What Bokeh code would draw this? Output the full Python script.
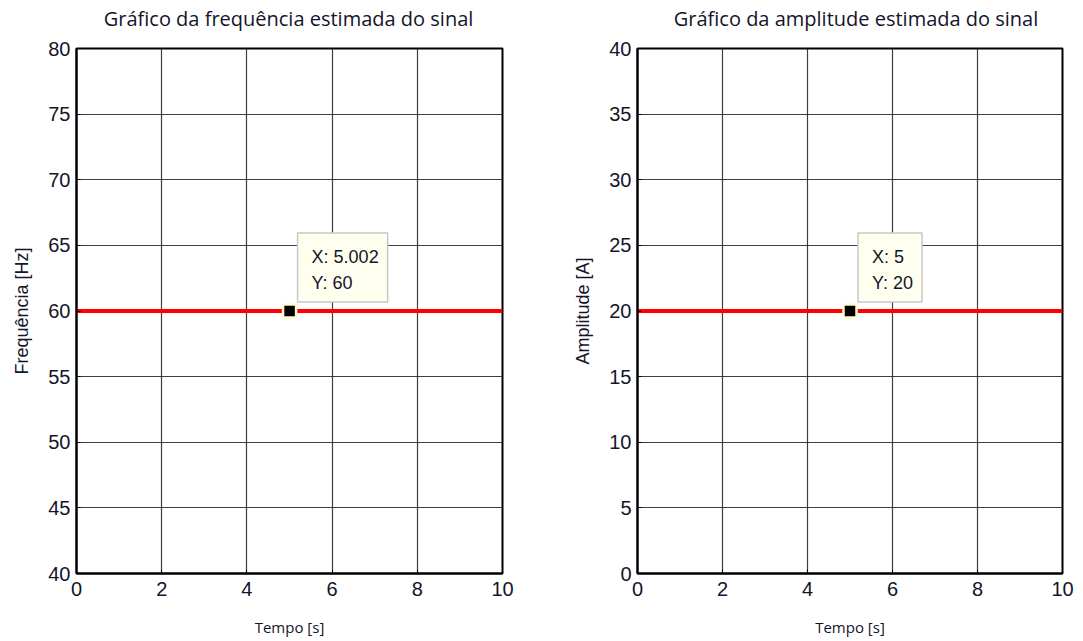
from bokeh.plotting import figure
from bokeh.layouts import row, column
from bokeh.models import Label, FixedTicker, Range1d
from bokeh.embed import file_html
from bokeh.resources import INLINE

# Estimated signal over time
time_s = [0, 2, 4, 6, 8, 10]
freq_hz = [60, 60, 60, 60, 60, 60]
amp_a = [20, 20, 20, 20, 20, 20]

# Data tips
freq_tip_x, freq_tip_y = 5.002, 60
amp_tip_x, amp_tip_y = 5, 20

x_ticks = [0, 2, 4, 6, 8, 10]
freq_ticks = [40, 45, 50, 55, 60, 65, 70, 75, 80]
amp_ticks = [0, 5, 10, 15, 20, 25, 30, 35, 40]

TICK_FONT = "Liberation Sans"
TEXT_COLOR = "#14142a"
HEAD_H = 36


def make_heading(text, width, shift):
    # thin strip above each chart holding its heading; its frame lines up with the chart's
    h = figure(width=width, height=HEAD_H, output_backend="svg", toolbar_location=None,
               x_range=Range1d(0, 10), y_range=Range1d(0, HEAD_H),
               x_axis_location=None, y_axis_location=None,
               min_border_left=0, min_border_right=0, min_border_top=0, min_border_bottom=0)
    h.outline_line_color = None
    h.grid.visible = False
    h.add_layout(Label(x=5, y=HEAD_H - 18, x_offset=shift, text=text,
                       text_font="Open Sans", text_font_size="20px",
                       text_color=TEXT_COLOR, text_align="center",
                       text_baseline="middle"))
    return h


def make_panel(ylabel, y, yticks, tip_x, tip_y, tip_label, width, b_left, b_right):
    p = figure(width=width, height=641 - HEAD_H, output_backend="svg", toolbar_location=None,
               x_range=Range1d(0, 10), y_range=Range1d(yticks[0], yticks[-1]),
               min_border_left=b_left, min_border_right=b_right,
               min_border_top=48 - HEAD_H, min_border_bottom=68)

    p.outline_line_color = "black"
    p.outline_line_width = 2
    p.outline_line_alpha = 1.0

    for ax, ticks in ((p.xaxis[0], x_ticks), (p.yaxis[0], yticks)):
        ax.ticker = FixedTicker(ticks=ticks)
        ax.major_label_text_font = TICK_FONT
        ax.major_label_text_font_size = "20px"
        ax.major_label_text_color = TEXT_COLOR
        ax.axis_line_color = "black"
        ax.axis_line_width = 2
        ax.major_tick_in = 4
        ax.major_tick_out = 0
        ax.major_tick_line_color = "black"
        ax.minor_tick_line_color = None
        ax.axis_label_text_font_style = "normal"
        ax.axis_label_text_color = TEXT_COLOR

    p.xaxis.axis_label = "Tempo [s]"
    p.xaxis.axis_label_text_font = "Open Sans"
    p.xaxis.axis_label_text_font_size = "15px"
    p.xaxis.major_label_standoff = 8
    p.xaxis.axis_label_standoff = 18

    p.yaxis.axis_label = ylabel
    p.yaxis.axis_label_text_font = TICK_FONT
    p.yaxis.axis_label_text_font_size = "18px"
    p.yaxis.major_label_standoff = 6
    p.yaxis.axis_label_standoff = 13

    p.grid.grid_line_color = "#2a2a2a"
    p.grid.grid_line_width = 1.2
    p.grid.grid_line_alpha = 0.9

    p.line(time_s, y, line_color="#ff0000", line_width=4)

    p.scatter([tip_x], [tip_y], marker="square", size=13, fill_color="black",
              line_color="#fffbd6", line_width=2.5)

    p.add_layout(Label(x=tip_x, y=tip_y, x_offset=8, y_offset=9, text=tip_label,
                       text_font=TICK_FONT, text_font_size="18px", text_color=TEXT_COLOR,
                       text_align="left", text_baseline="bottom", text_line_height=1.3,
                       background_fill_color="#fffff0", border_line_color="#c8c8c8",
                       border_line_width=1.5, padding=(14, 9, 14, 9)))
    return p


left = make_panel("Frequência [Hz]", freq_hz, freq_ticks, freq_tip_x, freq_tip_y,
                  f"X: {freq_tip_x}\nY: {freq_tip_y}", 541, 76, 39)
right = make_panel("Amplitude [A]", amp_a, amp_ticks, amp_tip_x, amp_tip_y,
                   f"X: {amp_tip_x}\nY: {amp_tip_y}", 542, 96, 21)

left_head = make_heading("Gráfico da frequência estimada do sinal", 541, -1)
right_head = make_heading("Gráfico da amplitude estimada do sinal", 542, 6)

layout = row(column(left_head, left), column(right_head, right))
open("out.html", "w").write(file_html(layout, INLINE))
